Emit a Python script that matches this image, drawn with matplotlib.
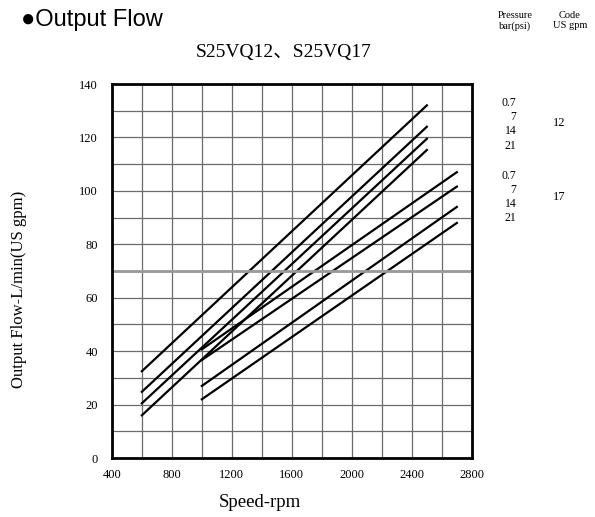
import matplotlib
matplotlib.use("Agg")
from matplotlib import pyplot as plt
import numpy as np

# speed (rpm) and flow (L/min), start / end of each line
speed_12 = [600, 2500]
flow_12 = {
    "0.7": [32.5, 132],
    "7": [24.8, 124],
    "14": [20.5, 119.5],
    "21": [16, 115.3],
}
speed_17 = [1000, 2700]
flow_17 = {
    "0.7": [40.7, 107],
    "7": [36.7, 101.6],
    "14": [27, 94],
    "21": [22, 88],
}
x_ticks = [400, 800, 1200, 1600, 2000, 2400, 2800]
y_ticks = [0, 20, 40, 60, 80, 100, 120, 140]

serif = ['Liberation Serif', 'Noto Sans CJK SC', 'DejaVu Serif']

fig = plt.figure(figsize=(5.95, 5.17), dpi=100)
ax = fig.add_axes([0.188, 0.114, 0.605, 0.7235])

for k, v in flow_12.items():
    ax.plot(speed_12, v, color='black', lw=1.6)
for k, v in flow_17.items():
    ax.plot(speed_17, v, color='black', lw=1.6)

ax.set_xlim(400, 2800)
ax.set_ylim(0, 140)
ax.set_xticks(np.arange(400, 2801, 200))
ax.set_yticks(np.arange(0, 141, 10))
ax.grid(True, color='#6a6a6a', lw=0.9)
ax.axhline(70, color='#9a9a9a', lw=2)
ax.set_xticklabels([str(t) if t in x_ticks else "" for t in np.arange(400, 2801, 200)],
                   family=serif, fontsize=9)
ax.set_yticklabels([str(t) if t in y_ticks else "" for t in np.arange(0, 141, 10)],
                   family=serif, fontsize=9)
ax.tick_params(axis='y', length=0, pad=10)
ax.tick_params(axis='x', length=0, pad=8)
for s in ax.spines.values():
    s.set_linewidth(2)

ax.set_xlabel("Speed-rpm", family=serif, fontsize=13.5)
ax.xaxis.set_label_coords(0.41, -0.097)
ax.set_ylabel("Output Flow-L/min(US gpm)", family=serif, fontsize=12)
ax.yaxis.set_label_coords(-0.235, 0.45)

fig.text(0.035, 0.962, "●Output Flow", fontsize=17, family='Liberation Sans', va='center')
fig.text(0.476, 0.899, "S25VQ12、S25VQ17", fontsize=14, family=serif, ha='center', va='center')

fig.text(0.866, 0.96, "Pressure\nbar(psi)", fontsize=7.5, family=serif, ha='center', va='center')
fig.text(0.958, 0.96, "Code\nUS gpm", fontsize=7.5, family=serif, ha='center', va='center')

ys12 = [103, 117, 131, 146]
ys17 = [176, 190, 204, 218]
for lab, y in zip(flow_12.keys(), ys12):
    fig.text(0.868, 1 - y / 517, lab, fontsize=8.5, family=serif, ha='right', va='center')
for lab, y in zip(flow_17.keys(), ys17):
    fig.text(0.868, 1 - y / 517, lab, fontsize=8.5, family=serif, ha='right', va='center')
fig.text(0.94, 1 - 123 / 517, "12", fontsize=9, family=serif, ha='center', va='center')
fig.text(0.94, 1 - 197 / 517, "17", fontsize=9, family=serif, ha='center', va='center')

fig.savefig("out.png", dpi=100)
